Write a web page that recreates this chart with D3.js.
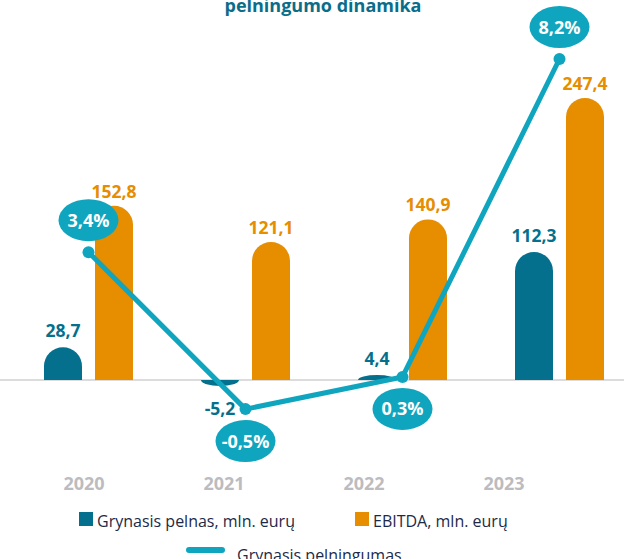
<!DOCTYPE html>
<html>
<head>
<meta charset="utf-8">
<script src="https://cdn.jsdelivr.net/npm/d3@7"></script>
<style>
  body { margin: 0; background: #fff; }
  svg { display: block; font-family: "Open Sans", "Noto Sans", sans-serif; }
</style>
</head>
<body>
<svg width="624" height="559"></svg>
<script>
// duomenys
var years = ["2020", "2021", "2022", "2023"];
var pelnas = [28.7, -5.2, 4.4, 112.3];        // Grynasis pelnas, mln. eurų
var ebitda = [152.8, 121.1, 140.9, 247.4];    // EBITDA, mln. eurų
var pelningumas = [3.4, -0.5, 0.3, 8.2];      // Grynasis pelningumas, %
var seriesNames = ["Grynasis pelnas, mln. eurų", "EBITDA, mln. eurų"];
var lineName = "Grynasis pelningumas";

var cBlue = "#04708d", cOrange = "#e68d00", cLine = "#10a5be";

var svg = d3.select("svg");

var fmt = function (v) { return String(v.toFixed(1)).replace(".", ","); };

// skalės
var x0 = d3.scaleBand().domain(years).range([10, 638]);
var x1 = d3.scaleBand().domain(["pelnas", "ebitda"]).range([34, 123]).paddingInner(0.255);
var y = d3.scaleLinear().domain([0, 250]).range([380, 95]);
var yp = d3.scaleLinear().domain([0, 8.2]).range([389, 59]);
var xLabel = d3.scalePoint().domain(years).range([84, 504]);

// pavadinimas (apkirptas)
svg.append("text")
  .attr("x", 323).attr("y", 12)
  .attr("text-anchor", "middle")
  .attr("font-size", 18).attr("font-weight", 700)
  .attr("fill", "#0a6d8a")
  .text("pelningumo dinamika");

// bazinė linija
svg.append("line")
  .attr("x1", 0).attr("x2", 624)
  .attr("y1", y(0)).attr("y2", y(0))
  .attr("stroke", "#dcdcdc").attr("stroke-width", 2);

// stulpelis su apvalia viršūne
function barPath(x, w, v) {
  var y0 = y(0), y1 = y(v);
  var h = Math.abs(y1 - y0);
  var r = Math.min(w / 2, h);
  if (v >= 0) {
    return "M" + x + "," + y0 + "V" + (y1 + r) +
      "A" + (w / 2) + "," + r + " 0 0 1 " + (x + w) + "," + (y1 + r) +
      "V" + y0 + "Z";
  }
  return "M" + x + "," + y0 + "V" + (y1 - r) +
    "A" + (w / 2) + "," + r + " 0 0 0 " + (x + w) + "," + (y1 - r) +
    "V" + y0 + "Z";
}

var rows = years.map(function (yr, i) {
  return {year: yr, pelnas: pelnas[i], ebitda: ebitda[i], pct: pelningumas[i]};
});

var groups = svg.append("g").selectAll("g")
  .data(rows).enter().append("g")
  .attr("transform", function (d) { return "translate(" + x0(d.year) + ",0)"; });

groups.append("path")
  .attr("d", function (d) { return barPath(x1("pelnas"), x1.bandwidth(), d.pelnas); })
  .attr("fill", cBlue);
groups.append("path")
  .attr("d", function (d) { return barPath(x1("ebitda"), x1.bandwidth(), d.ebitda); })
  .attr("fill", cOrange);

// reikšmės virš stulpelių
groups.append("text")
  .attr("x", x1("pelnas") + x1.bandwidth() / 2)
  .attr("y", function (d) { return d.pelnas < 0 ? y(d.pelnas) + 29 : y(d.pelnas) - 10; })
  .attr("text-anchor", "middle")
  .attr("font-size", 17.5).attr("font-weight", 700)
  .attr("fill", cBlue)
  .text(function (d) { return fmt(d.pelnas); });
groups.append("text")
  .attr("x", x1("ebitda") + x1.bandwidth() / 2)
  .attr("y", function (d) { return y(d.ebitda) - 8; })
  .attr("text-anchor", "middle")
  .attr("font-size", 17.5).attr("font-weight", 700)
  .attr("fill", cOrange)
  .text(function (d) { return fmt(d.ebitda); });

// pelningumo linija
var cx = function (d) { return x0(d.year) + x0.bandwidth() / 2; };
var line = d3.line().x(cx).y(function (d) { return yp(d.pct); });

svg.append("path")
  .datum(rows)
  .attr("d", line)
  .attr("fill", "none")
  .attr("stroke", cLine).attr("stroke-width", 5)
  .attr("stroke-linejoin", "round");

svg.append("g").selectAll("circle")
  .data(rows).enter().append("circle")
  .attr("cx", cx).attr("cy", function (d) { return yp(d.pct); })
  .attr("r", 6).attr("fill", cLine);

// burbulai
var bub = svg.append("g").selectAll("g")
  .data(rows).enter().append("g")
  .attr("transform", function (d, i) {
    var up = (i === 0 || i === 3);
    return "translate(" + cx(d) + "," + (yp(d.pct) + (up ? -32 : 32)) + ")";
  });
bub.append("ellipse").attr("rx", 30).attr("ry", 21).attr("fill", cLine);
bub.append("text")
  .attr("y", 6.5)
  .attr("text-anchor", "middle")
  .attr("font-size", 18).attr("font-weight", 700)
  .attr("fill", "#fff")
  .text(function (d) { return fmt(d.pct) + "%"; });

// metai
svg.append("g").selectAll("text")
  .data(years).enter().append("text")
  .attr("x", function (d) { return xLabel(d); })
  .attr("y", 490)
  .attr("text-anchor", "middle")
  .attr("font-size", 18).attr("font-weight", 700)
  .attr("fill", "#bcbcc0")
  .text(function (d) { return d; });

// legenda
var legend = svg.append("g").attr("font-size", 16).attr("fill", "#1c2a48");
[[79, cBlue], [355, cOrange]].forEach(function (p, i) {
  legend.append("rect").attr("x", p[0]).attr("y", 512).attr("width", 14).attr("height", 14).attr("fill", p[1]);
  legend.append("text").attr("x", p[0] + 18).attr("y", 527).text(seriesNames[i]);
});
legend.append("line")
  .attr("x1", 189).attr("x2", 222).attr("y1", 550).attr("y2", 550)
  .attr("stroke", cLine).attr("stroke-width", 6).attr("stroke-linecap", "round");
legend.append("text").attr("x", 237).attr("y", 561).text(lineName);
</script>
</body>
</html>
